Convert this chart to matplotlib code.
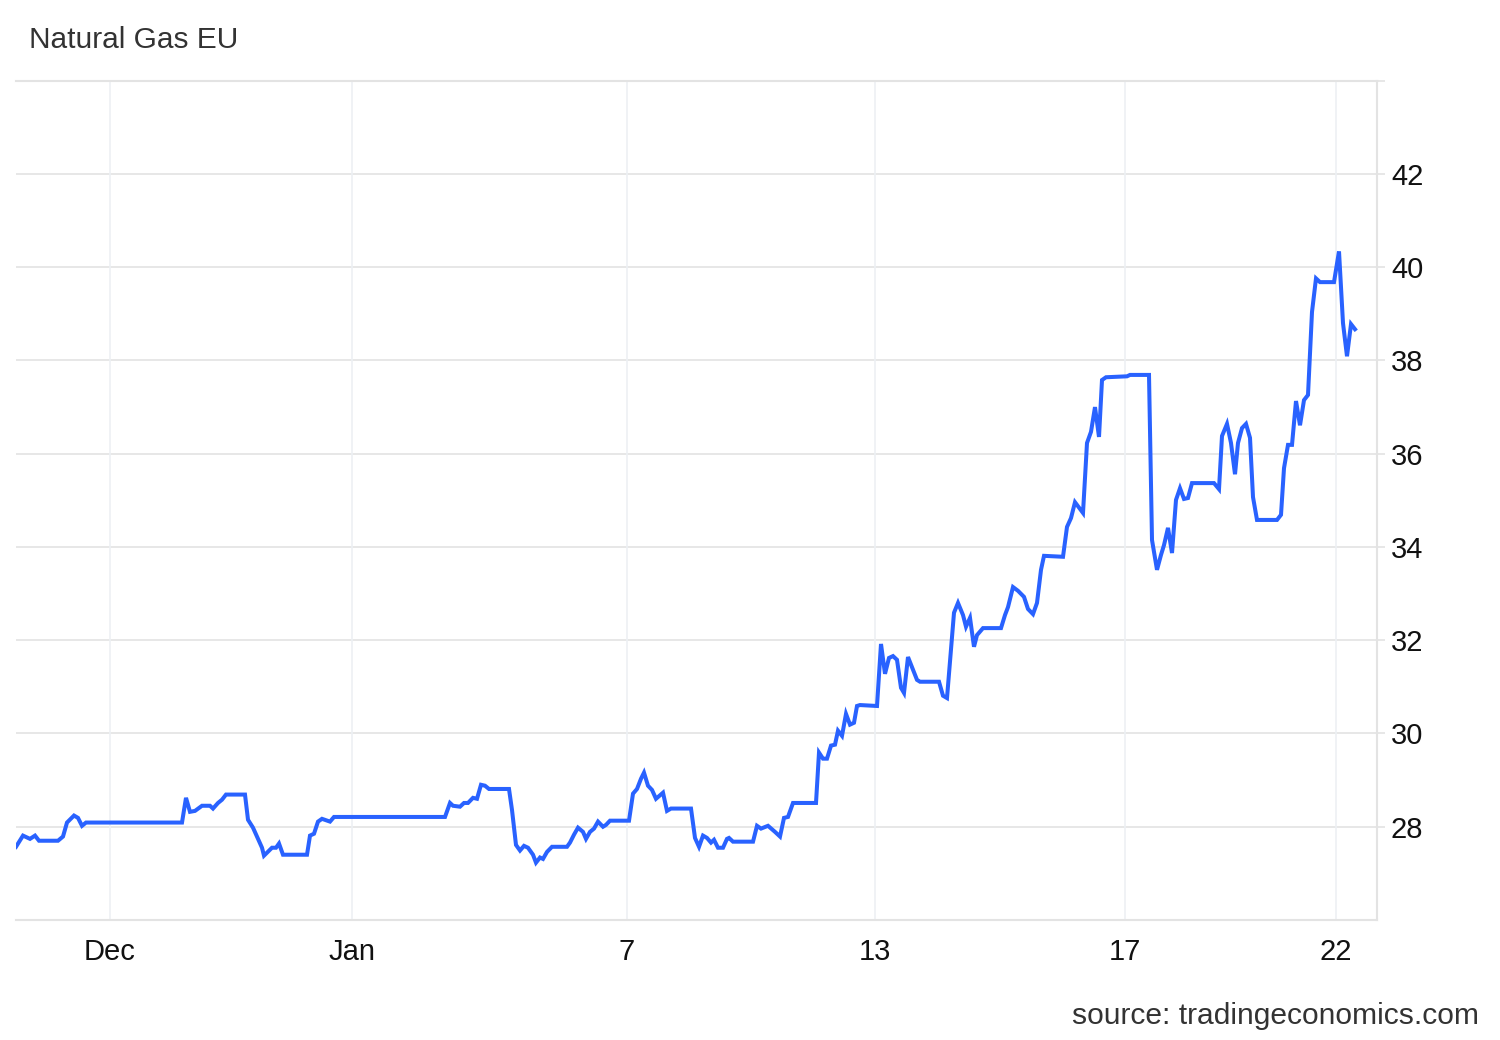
import matplotlib
matplotlib.use("Agg")
import matplotlib.pyplot as plt

# Sample positions along the (non-uniform) time axis and EU natural gas prices
positions = [0, 7, 14, 19, 23, 42, 47, 51, 58, 62, 66, 70, 166, 170, 174, 179, 186, 194, 197, 202,
             206, 210, 229, 232, 237, 246, 248, 256, 260, 263, 267, 291, 294, 298, 302, 306, 314, 318,
             429, 434, 437, 444, 448, 452, 457, 461, 465, 469, 473, 493, 496, 500, 504, 508, 512, 517,
             520, 524, 527, 531, 536, 551, 554, 558, 562, 567, 570, 574, 578, 582, 587, 590, 594, 613,
             617, 621, 625, 628, 632, 636, 640, 647, 651, 655, 675, 679, 683, 687, 691, 695, 698, 702,
             707, 711, 713, 717, 737, 741, 745, 752, 759, 764, 768, 772, 777, 800, 803, 807, 811, 815,
             819, 822, 826, 830, 834, 838, 841, 844, 861, 865, 869, 873, 877, 881, 885, 888, 892, 901,
             904, 923, 927, 931, 938, 942, 947, 950, 954, 958, 961, 967, 985, 989, 992, 997, 1002, 1008,
             1012, 1017, 1021, 1025, 1028, 1047, 1051, 1055, 1059, 1067, 1071, 1075, 1079, 1083, 1086,
             1090, 1111, 1114, 1133, 1136, 1141, 1145, 1148, 1152, 1156, 1160, 1164, 1168, 1172, 1176,
             1198, 1203, 1206, 1211, 1215, 1219, 1222, 1226, 1230, 1234, 1237, 1241, 1261, 1265, 1268,
             1272, 1276, 1280, 1284, 1288, 1292, 1296, 1300, 1304, 1318, 1323, 1327, 1331, 1335, 1339]
prices = [27.57, 27.81, 27.74, 27.81, 27.70, 27.70, 27.79, 28.09, 28.24, 28.19, 28.02, 28.09, 28.09,
          28.62, 28.32, 28.34, 28.45, 28.45, 28.39, 28.51, 28.58, 28.69, 28.69, 28.15, 27.98, 27.55,
          27.38, 27.55, 27.55, 27.64, 27.40, 27.40, 27.81, 27.85, 28.11, 28.17, 28.11, 28.21, 28.21,
          28.51, 28.45, 28.43, 28.51, 28.51, 28.62, 28.60, 28.90, 28.88, 28.81, 28.81, 28.36, 27.61,
          27.49, 27.59, 27.55, 27.40, 27.23, 27.34, 27.31, 27.46, 27.57, 27.57, 27.66, 27.83, 27.98,
          27.89, 27.74, 27.89, 27.96, 28.11, 28.00, 28.04, 28.13, 28.13, 28.71, 28.81, 29.03, 29.16,
          28.88, 28.79, 28.60, 28.73, 28.34, 28.39, 28.39, 27.76, 27.57, 27.81, 27.76, 27.66, 27.72,
          27.55, 27.55, 27.74, 27.76, 27.68, 27.68, 28.02, 27.96, 28.02, 27.89, 27.79, 28.19, 28.21,
          28.51, 28.51, 29.59, 29.46, 29.46, 29.74, 29.76, 30.06, 29.95, 30.42, 30.19, 30.23, 30.59,
          30.61, 30.59, 31.92, 31.28, 31.62, 31.66, 31.58, 30.98, 30.87, 31.64, 31.15, 31.11, 31.11,
          30.81, 30.76, 32.59, 32.80, 32.54, 32.29, 32.48, 31.86, 32.11, 32.26, 32.26, 32.54, 32.71,
          33.14, 33.06, 32.93, 32.67, 32.56, 32.80, 33.51, 33.81, 33.79, 34.43, 34.62, 34.96, 34.73,
          36.23, 36.47, 37.00, 36.36, 37.58, 37.64, 37.66, 37.69, 37.69, 34.15, 33.51, 33.83, 34.04,
          34.41, 33.87, 35.01, 35.26, 35.03, 35.05, 35.37, 35.37, 35.24, 36.38, 36.64, 36.23, 35.56,
          36.23, 36.55, 36.64, 36.34, 35.07, 34.58, 34.58, 34.69, 35.69, 36.19, 36.19, 37.13, 36.61,
          37.15, 37.26, 39.04, 39.76, 39.68, 39.68, 40.34, 38.80, 38.09, 38.78, 38.67]

xtick_positions = [94, 336, 611, 859, 1109, 1320]
xtick_labels = ["Dec", "Jan", "7", "13", "17", "22"]
ytick_values = [28, 30, 32, 34, 36, 38, 40, 42, 44]
ytick_labels = ["28", "30", "32", "34", "36", "38", "40", "42", ""]

title = "Natural Gas EU"
source = "source: tradingeconomics.com"

plt.rcParams["font.family"] = ["Liberation Sans", "DejaVu Sans"]

W, H = 1500, 1040
fig = plt.figure(figsize=(W / 100, H / 100), dpi=100)
left, right, top, bottom = 16, 1377, 80.7, 920
ax = fig.add_axes([left / W, 1 - bottom / H, (right - left) / W, (bottom - top) / H])

ax.plot(positions, prices, color="#2962ff", linewidth=2.9, solid_joinstyle="miter", zorder=3)

ax.set_xlim(0, right - left)
ax.set_ylim(26, 44)

ax.set_xticks(xtick_positions)
ax.set_xticklabels(xtick_labels, fontsize=21, color="#111111")
ax.set_yticks(ytick_values)
ax.set_yticklabels(ytick_labels, fontsize=21, color="#111111")

ax.yaxis.tick_right()
ax.tick_params(axis="y", length=6, width=1.2, color="#e3e3e3", pad=4)
ax.tick_params(axis="x", length=0, pad=13)

for y in ytick_values:
    ax.axhline(y, color="#e3e3e3", linewidth=1.2, zorder=1)
for x in xtick_positions:
    ax.axvline(x, color="#edf0f4", linewidth=1.2, zorder=1)

ax.spines["left"].set_visible(False)
for side in ["right", "bottom", "top"]:
    ax.spines[side].set_color("#e3e3e3")
    ax.spines[side].set_linewidth(1.5)

fig.text(29 / W, 1 - 40 / H, title, fontsize=21.5, color="#333333", ha="left", va="center")
fig.text(1479 / W, 1 - 1016 / H, source, fontsize=21.6, color="#333333", ha="right", va="center")

fig.savefig("out.png", dpi=100, facecolor="white")
